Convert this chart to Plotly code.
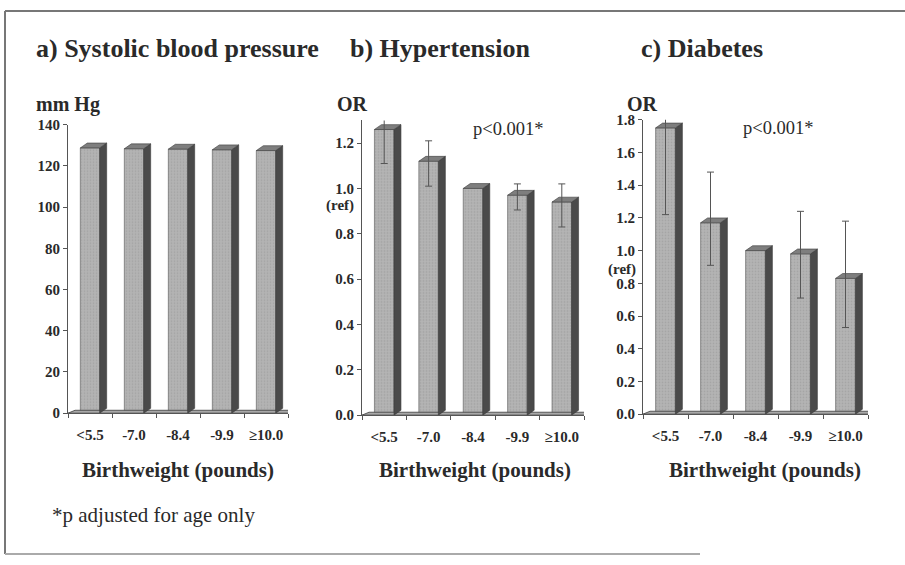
import plotly.graph_objects as go

W, H = 905, 565

categories = ["<5.5", "-7.0", "-8.4", "-9.9", "≥10.0"]
sbp_values = [128.7, 128.3, 128.1, 127.8, 127.4]
htn_or = [1.26, 1.12, 1.0, 0.97, 0.94]
htn_lo = [1.11, 1.01, None, 0.905, 0.83]
htn_hi = [1.33, 1.21, None, 1.02, 1.02]
dm_or = [1.75, 1.17, 1.0, 0.98, 0.83]
dm_lo = [1.22, 0.91, None, 0.71, 0.53]
dm_hi = [1.84, 1.48, None, 1.24, 1.18]

SERIF = "Times New Roman, Liberation Serif, Tinos, serif"
FRONT = "#b4b4b4"
SIDE = "#4a4a4a"
TOP = "#7e7e7e"
EDGE = "#3a3a3a"
TXT = "#2a2a2a"

panels = [
    dict(x0=68, x1=288, yb=417, yt=120, ymax=140, dtick=20, fmt="d", vals=sbp_values, lo=None, hi=None),
    dict(x0=362, x1=584, yb=419, yt=115.7, ymax=1.3, dtick=0.2, fmt=".1f", vals=htn_or, lo=htn_lo, hi=htn_hi),
    dict(x0=643, x1=868, yb=418, yt=115, ymax=1.8, dtick=0.2, fmt=".1f", vals=dm_or, lo=dm_lo, hi=dm_hi),
]

BAR_W = 0.44
DEPTH_X_PX = 7
DEPTH_Y_PX = 5

fig = go.Figure()
layout_axes = {}
for i, p in enumerate(panels):
    n = "" if i == 0 else str(i + 1)
    xa, ya = "x" + n, "y" + n
    xs = list(range(len(categories)))
    cat_px = (p["x1"] - p["x0"]) / len(categories)
    dx = DEPTH_X_PX / cat_px
    dy = DEPTH_Y_PX * p["ymax"] / (p["yb"] - p["yt"])
    fdy = 3 * p["ymax"] / (p["yb"] - p["yt"])
    vals = p["vals"]

    # floor
    fx = [-0.5, len(categories) - 0.5 + 0.05, len(categories) - 0.5 + 0.05 + dx, -0.5 + dx, -0.5]
    fy = [0, 0, fdy, fdy, 0]
    fig.add_trace(go.Scatter(x=fx, y=fy, xaxis=xa, yaxis=ya, mode="lines", fill="toself",
                             fillcolor="#a8a8a8", line=dict(color=EDGE, width=0.8),
                             hoverinfo="skip", showlegend=False))
    # front faces
    fig.add_trace(go.Bar(x=xs, y=vals, width=BAR_W, xaxis=xa, yaxis=ya,
                         marker=dict(color=FRONT, line=dict(color="#555555", width=0.6),
                                     pattern=dict(shape=".", fgcolor="#8e8e8e", bgcolor=FRONT,
                                                  size=3, solidity=0.25)),
                         showlegend=False, hoverinfo="skip"))
    # side and top faces
    sx, sy, tx, ty = [], [], [], []
    for x, v in zip(xs, vals):
        r = x + BAR_W / 2
        l = x - BAR_W / 2
        sx += [r, r + dx, r + dx, r, r, None]
        sy += [0, dy, v + dy, v, 0, None]
        tx += [l, r, r + dx, l + dx, l, None]
        ty += [v, v, v + dy, v + dy, v, None]
    fig.add_trace(go.Scatter(x=sx, y=sy, xaxis=xa, yaxis=ya, mode="lines", fill="toself",
                             fillcolor=SIDE, line=dict(color=EDGE, width=0.6),
                             hoverinfo="skip", showlegend=False))
    fig.add_trace(go.Scatter(x=tx, y=ty, xaxis=xa, yaxis=ya, mode="lines", fill="toself",
                             fillcolor=TOP, line=dict(color=EDGE, width=0.6),
                             hoverinfo="skip", showlegend=False))
    # error bars
    if p["lo"] is not None:
        ex, ey, up, dn = [], [], [], []
        for x, v, lo, hi in zip(xs, vals, p["lo"], p["hi"]):
            if lo is None:
                continue
            ex.append(x)
            ey.append(v)
            up.append(hi - v)
            dn.append(v - lo)
        fig.add_trace(go.Scatter(x=ex, y=ey, xaxis=xa, yaxis=ya, mode="markers",
                                 marker=dict(size=1, opacity=0),
                                 error_y=dict(type="data", array=up, arrayminus=dn, symmetric=False,
                                              color="#555555", thickness=1, width=3.5),
                                 hoverinfo="skip", showlegend=False))

    layout_axes["xaxis" + n] = dict(
        domain=[p["x0"] / W, p["x1"] / W], range=[-0.5, len(categories) - 0.5],
        anchor=ya, tickmode="array", tickvals=xs, ticktext=categories, ticks="",
        ticklabelstandoff=8,
        showline=True, linecolor="#555555", linewidth=1, showgrid=False, zeroline=False,
        tickfont=dict(family=SERIF, size=15, color=TXT, weight="bold"),
        minor=dict(tickmode="array", tickvals=[k - 0.5 for k in range(len(categories) + 1)],
                   ticks="outside", ticklen=4, tickcolor="#555555", showgrid=False),
        fixedrange=True,
    )
    layout_axes["yaxis" + n] = dict(
        domain=[1 - p["yb"] / H, 1 - p["yt"] / H], range=[0, p["ymax"]],
        anchor=xa, dtick=p["dtick"], tick0=0, tickformat=p["fmt"], ticks="outside", ticklen=4,
        tickcolor="#555555", showline=True, linecolor="#555555", linewidth=1,
        showgrid=False, zeroline=False,
        tickfont=dict(family=SERIF, size=15, color=TXT, weight="bold"),
        fixedrange=True,
    )


def ann(text, xpx, ypx, size, bold=False, xanchor="left", color=TXT):
    return dict(text=("<b>%s</b>" % text) if bold else text, x=xpx / W, y=1 - ypx / H,
                xref="paper", yref="paper", xanchor=xanchor, yanchor="middle", showarrow=False,
                font=dict(family=SERIF, size=size, color=color))


annotations = [
    ann("a) Systolic blood pressure", 34, 42, 26, True),
    ann("b) Hypertension", 348, 42, 26, True),
    ann("c) Diabetes", 639, 42, 26, True),
    ann("mm Hg", 34, 99, 20, True),
    ann("OR", 335, 99, 20, True),
    ann("OR", 625, 99, 20, True),
    ann("p&lt;0.001*", 471, 125, 18.5),
    ann("p&lt;0.001*", 741, 123, 18.5),
    ann("(ref)", 356, 203, 15, True, "right"),
    ann("(ref)", 638, 269, 15, True, "right"),
    ann("Birthweight (pounds)", 178, 475, 21, True, "center"),
    ann("Birthweight (pounds)", 475, 475, 21, True, "center"),
    ann("Birthweight (pounds)", 765, 475, 21, True, "center"),
    ann("*p adjusted for age only", 50, 522, 21),
]

shapes = [
    dict(type="line", xref="paper", yref="paper", x0=5 / W, x1=1, y0=1 - 3 / H, y1=1 - 3 / H,
         line=dict(color="#777777", width=2)),
    dict(type="line", xref="paper", yref="paper", x0=5 / W, x1=5 / W, y0=1 - 3 / H, y1=1 - 562 / H,
         line=dict(color="#777777", width=2)),
    dict(type="line", xref="paper", yref="paper", x0=5 / W, x1=700 / W, y0=1 - 562 / H, y1=1 - 562 / H,
         line=dict(color="#aaaaaa", width=2)),
]

fig.update_layout(
    width=W, height=H, margin=dict(l=0, r=0, t=0, b=0),
    paper_bgcolor="white", plot_bgcolor="white", showlegend=False, barmode="overlay",
    annotations=annotations, shapes=shapes, **layout_axes,
)

fig.write_html("out.html", config={"displayModeBar": False})
